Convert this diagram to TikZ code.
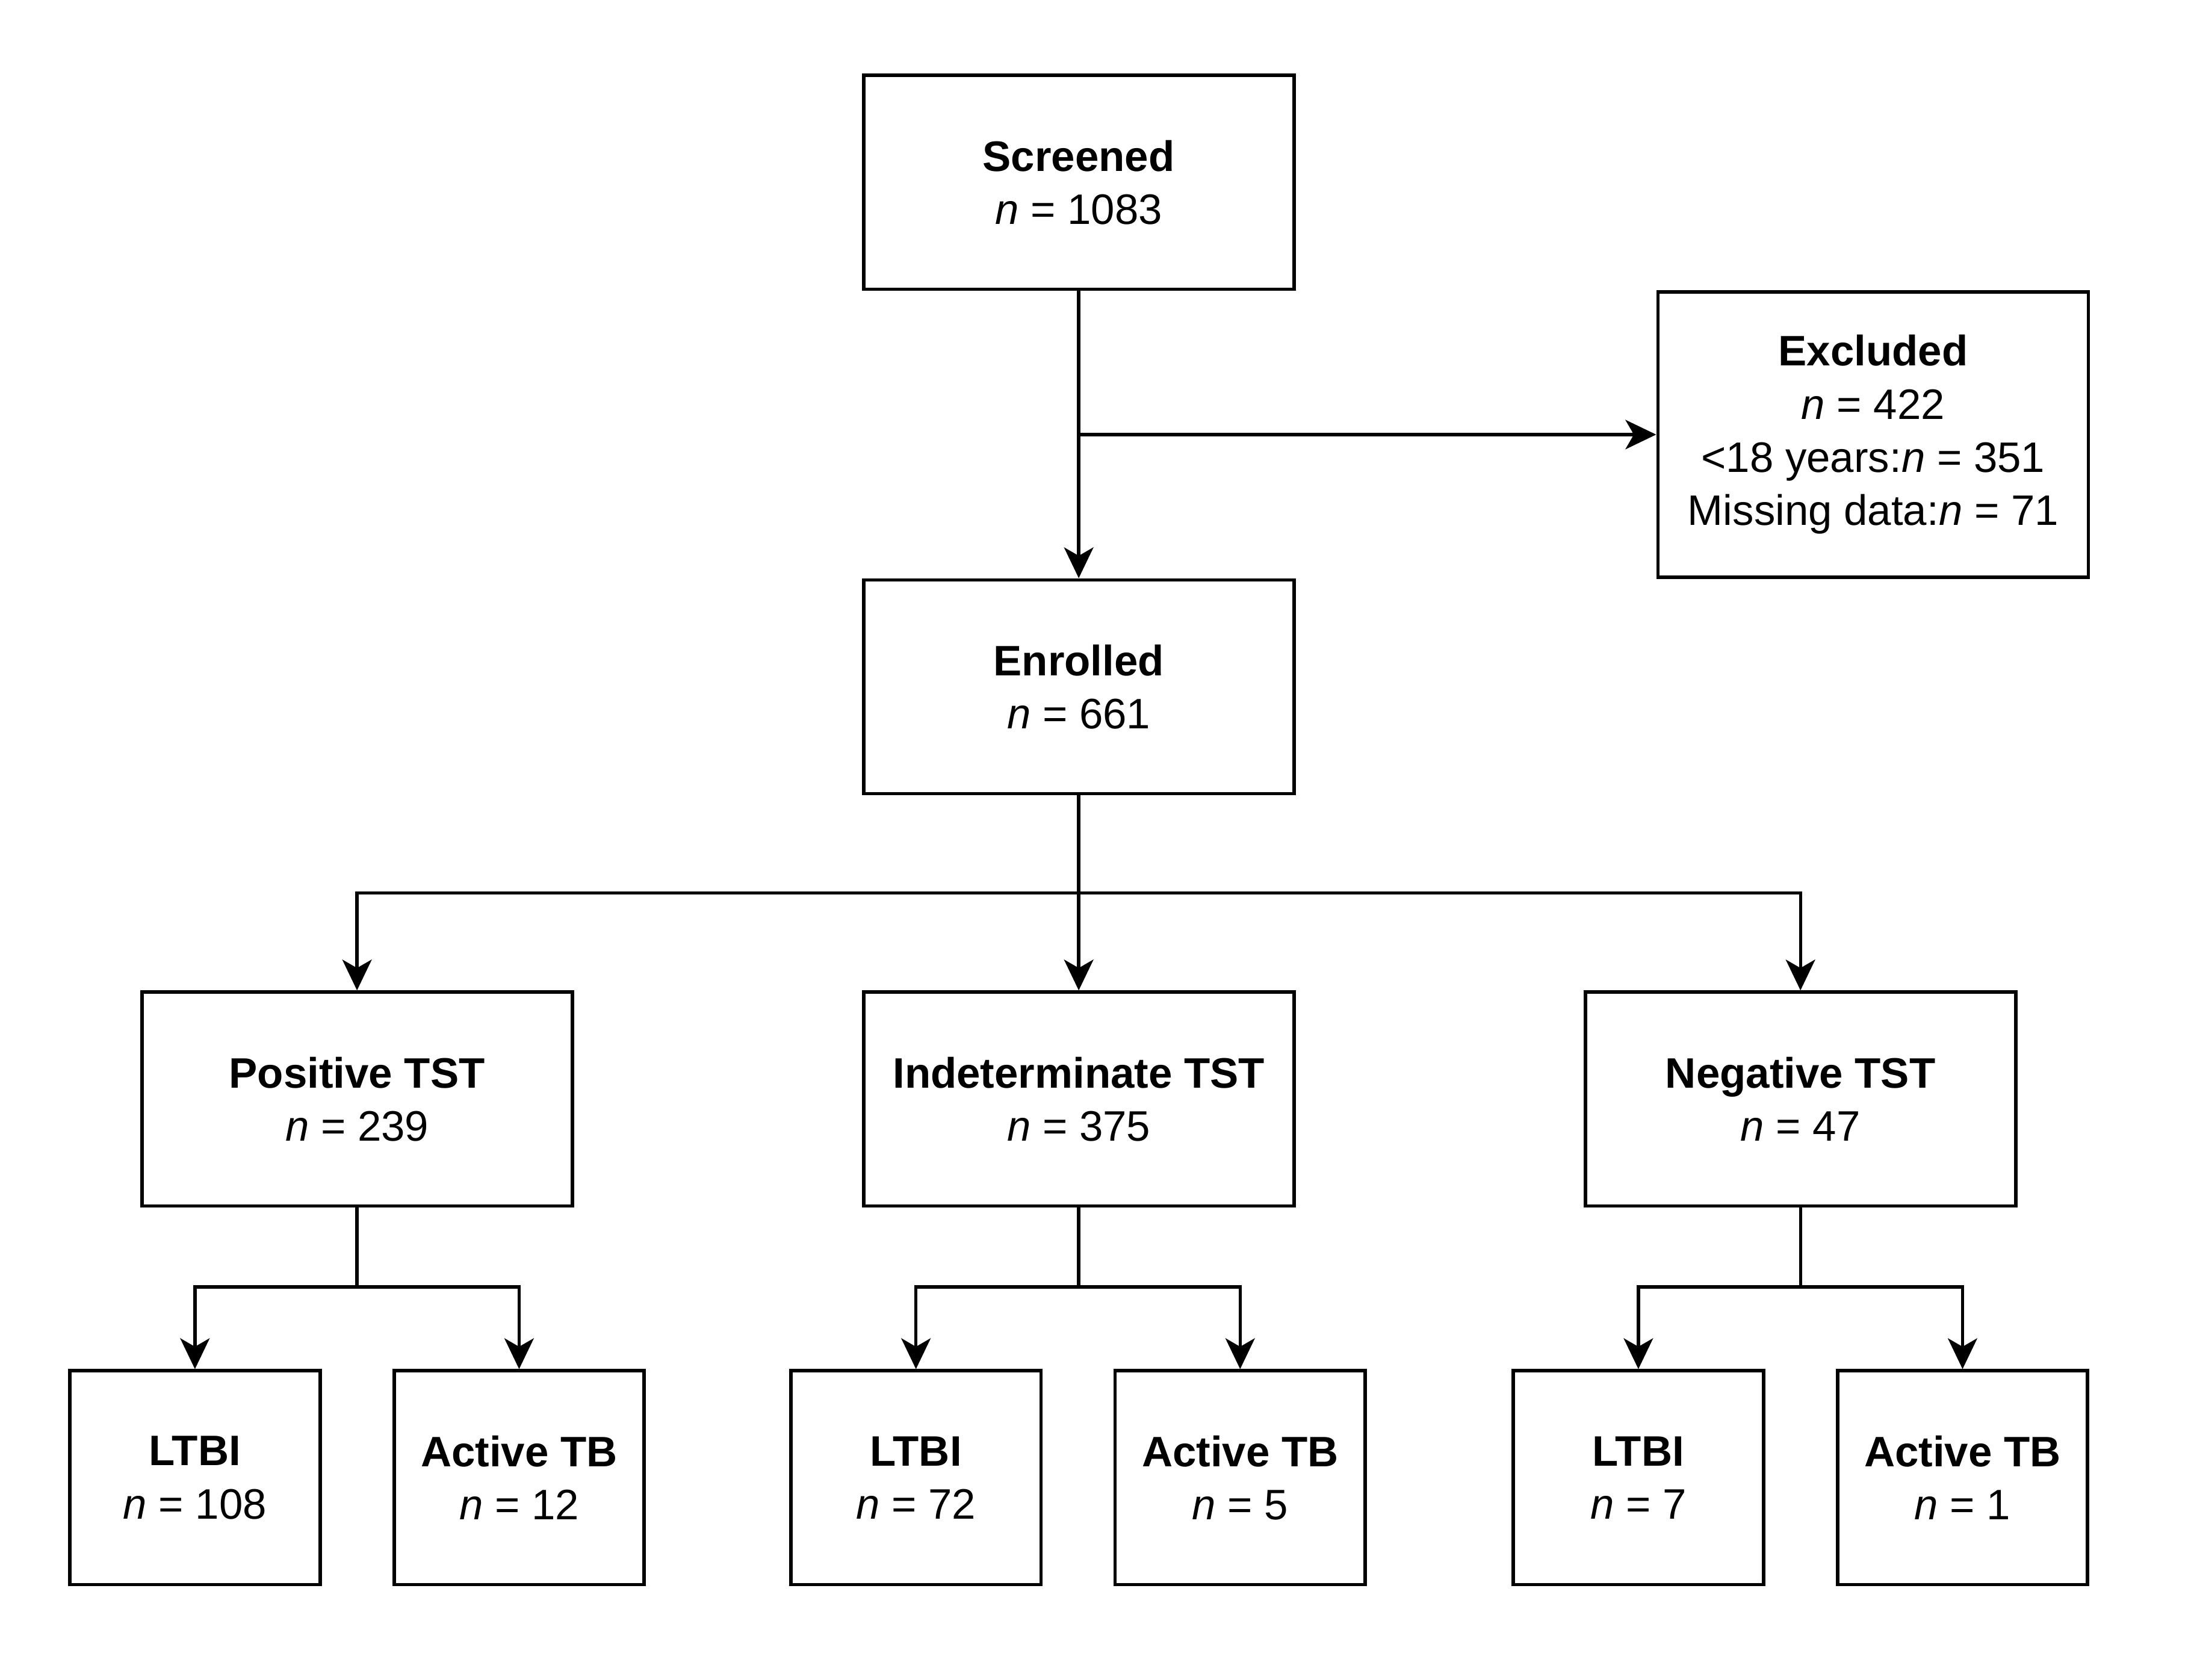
\documentclass[tikz,border=0pt]{standalone}
\usepackage{fontspec}
\setmainfont{Liberation Sans}
\usetikzlibrary{arrows.meta}
\begin{document}
\begin{tikzpicture}[x=1pt,y=-1pt,
  box/.style={draw, line width=2.5pt, minimum width=308pt, minimum height=153pt, inner sep=0pt, align=center, font=\fontsize{30.5}{38}\selectfont},
  sbox/.style={box, minimum width=179pt},
  conn/.style={line width=2.3pt},
  arr/.style={conn, -{Stealth[length=22pt,width=21pt,inset=6pt]}}]
\useasboundingbox (0,0) rectangle (1568,1202);
\fill[white] (0,0) rectangle (1568,1202);

\node[box] (scr) at (772,130.5) {\textbf{Screened}\\\textit{n} = 1083};
\node[box, minimum height=204pt] (exc) at (1340.5,311) {\textbf{Excluded}\\\textit{n} = 422\\<18 years:\textit{n} = 351\\Missing data:\textit{n} = 71};
\node[box] (enr) at (772,491.5) {\textbf{Enrolled}\\\textit{n} = 661};
\node[box] (pos) at (255.5,786.5) {\textbf{Positive TST}\\\textit{n} = 239};
\node[box] (ind) at (772,786.5) {\textbf{Indeterminate TST}\\\textit{n} = 375};
\node[box] (neg) at (1288.5,786.5) {\textbf{Negative TST}\\\textit{n} = 47};

\node[sbox] (l1) at (139.5,1057.5) {\textbf{LTBI}\\\textit{n} = 108};
\node[sbox] (a1) at (371.5,1057.5) {\textbf{Active TB}\\\textit{n} = 12};
\node[sbox] (l2) at (655.5,1057.5) {\textbf{LTBI}\\\textit{n} = 72};
\node[sbox] (a2) at (887.5,1057.5) {\textbf{Active TB}\\\textit{n} = 5};
\node[sbox] (l3) at (1172.5,1057.5) {\textbf{LTBI}\\\textit{n} = 7};
\node[sbox] (a3) at (1404.5,1057.5) {\textbf{Active TB}\\\textit{n} = 1};

\draw[arr] (scr) -- (enr);
\coordinate (b1) at (772,311);
\draw[arr] (b1) -- (exc.west);

\coordinate (b2) at (772,639);
\draw[conn] (enr) -- (b2);
\draw[arr] (b2) -- (ind);
\draw[arr] (b2) -| (pos);
\draw[arr] (b2) -| (neg);

\coordinate (j1) at (255.5,921);
\coordinate (j2) at (772,921);
\coordinate (j3) at (1288.5,921);
\draw[conn] (pos) -- (j1);
\draw[conn] (ind) -- (j2);
\draw[conn] (neg) -- (j3);
\draw[arr] (j1) -| (l1);
\draw[arr] (j1) -| (a1);
\draw[arr] (j2) -| (l2);
\draw[arr] (j2) -| (a2);
\draw[arr] (j3) -| (l3);
\draw[arr] (j3) -| (a3);
\end{tikzpicture}
\end{document}
